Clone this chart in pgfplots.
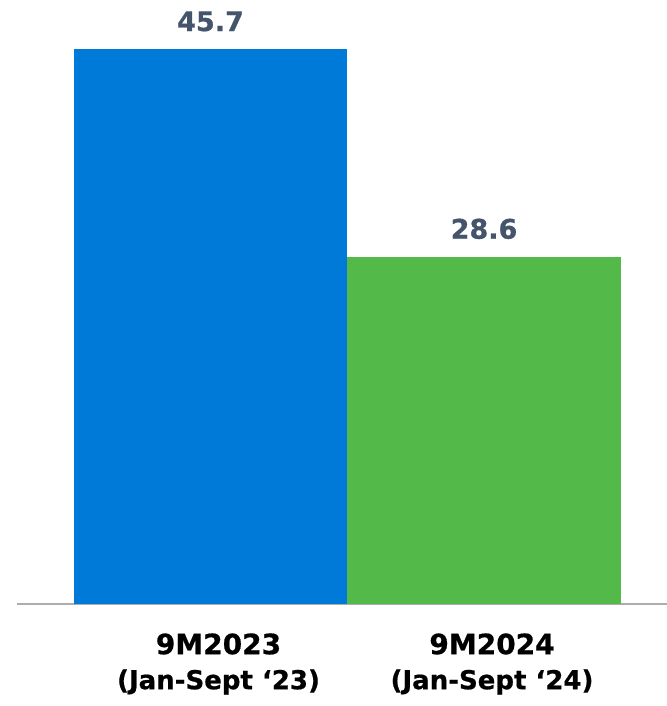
\documentclass[border=0pt]{standalone}
\usepackage{fontspec}
\setmainfont{DejaVu Sans}[BoldFeatures={FakeBold=0.7}]
\usepackage{pgfplots}
\pgfplotsset{compat=1.18}
\definecolor{barblue}{RGB}{0,122,217}
\definecolor{bargreen}{RGB}{83,185,73}
\definecolor{lbl}{RGB}{68,84,106}
\definecolor{axgray}{RGB}{173,173,173}
\begin{document}
\begin{tikzpicture}
\begin{axis}[
  at={(0,0)}, anchor=south west,
  scale only axis, width=325pt, height=302pt,
  xmin=-0.7075, xmax=1.669, ymin=0, ymax=49.74,
  axis x line=bottom, axis y line=none,
  axis line style={-, draw=axgray, line width=1.25pt},
  xtick={0,1}, major tick length=0pt, ytick=\empty,
  xticklabels={{\fontsize{14}{17.5}\selectfont 9M2023\\\fontsize{13}{17.5}\selectfont (Jan-Sept ‘23)},
               {\fontsize{14}{17.5}\selectfont 9M2024\\\fontsize{13}{17.5}\selectfont (Jan-Sept ‘24)}},
  xticklabel style={align=center, anchor=north, inner sep=0pt, yshift=-14.5pt, xshift=4pt, font=\bfseries\fontsize{14}{17.5}\selectfont, text=black},
  clip=false,
  point meta=explicit symbolic,
  nodes near coords,
  nodes near coords style={anchor=base, inner sep=0pt, yshift=9pt, text=lbl, font=\bfseries\fontsize{13.5}{16}\selectfont},
]
\addplot[ybar, bar shift=0pt, bar width=1, fill=barblue, draw=none] coordinates {(0,45.7) [45.7]};
\addplot[ybar, bar shift=0pt, bar width=1, fill=bargreen, draw=none] coordinates {(1,28.6) [28.6]};
\end{axis}
\pgfresetboundingbox
\path (-8.5pt,-51pt) rectangle (325pt,302pt);
\end{tikzpicture}
\end{document}
